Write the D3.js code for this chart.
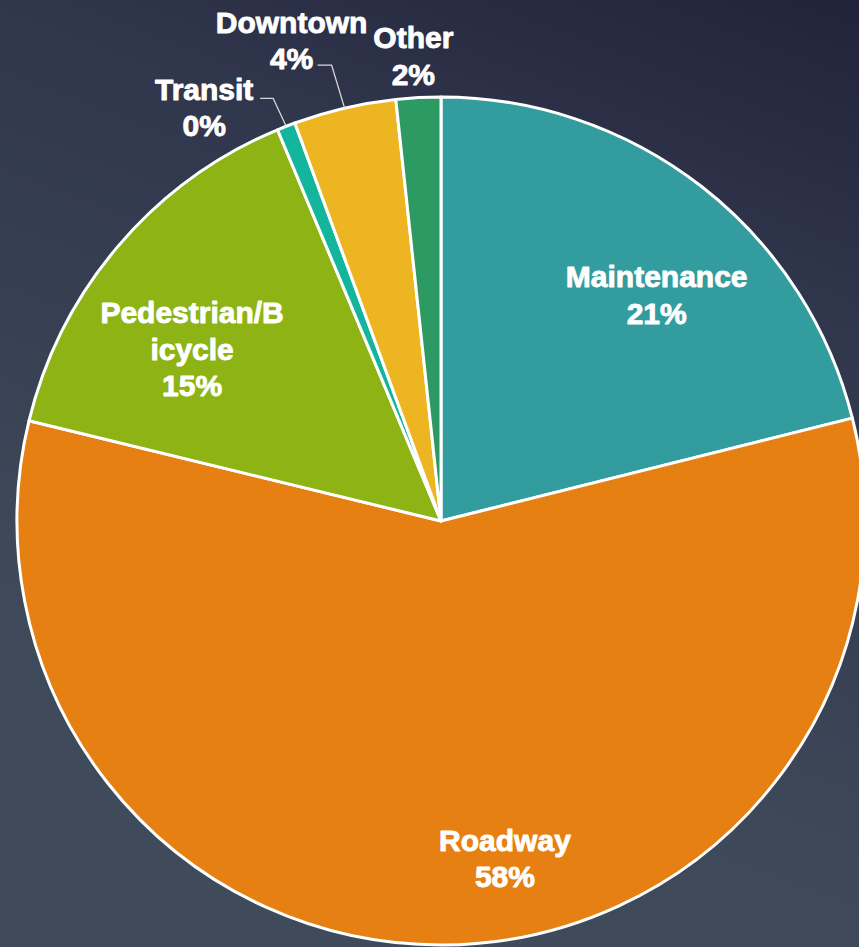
<!DOCTYPE html>
<html><head><meta charset="utf-8">
<script src="https://cdn.jsdelivr.net/npm/d3@7"></script>
<style>html,body{margin:0;padding:0;overflow:hidden;background:#2e3447}</style>
</head><body>
<svg id="chart" width="859" height="947"></svg>
<script>
const categories = ["Maintenance","Roadway","Pedestrian/Bicycle","Transit","Downtown","Other"];
const values = [21.1, 57.7, 14.9, 0.7, 3.9, 1.7];
const labelLines = [["Maintenance"],["Roadway"],["Pedestrian/B","icycle"],["Transit"],["Downtown"],["Other"]];
const pctLabels = ["21%","58%","15%","0%","4%","2%"];
const colors = ["#339c9e","#e68012","#8db414","#13b59c","#edb522","#2e9a63"];

// layout tweaks (not data)
const W = 859, H = 947, cx = 441, cy = 521, R = 424;
const fontSize = 30, lineH = 36.5;
// inside labels: offset from centroid at labelRadius; outside: offset from edge point
const labelCfg = [
  {inside:true, dx:28, dy:14},
  {inside:true, dx:63, dy:32},
  {inside:true, dx:-17, dy:26},
  {inside:false, dx:-82, dy:-19, leader:[[-13,-28],[-26,-28]]},
  {inside:false, dx:-53, dy:-68, leader:[[-13,-43],[-27,-43]]},
  {inside:false, dx:-5, dy:-42}
];

const svg = d3.select("#chart");
const defs = svg.append("defs");
const grad = defs.append("linearGradient").attr("id","bg")
  .attr("gradientUnits","userSpaceOnUse")
  .attr("x1",859).attr("y1",0).attr("x2",500).attr("y2",947);
grad.append("stop").attr("offset",0).attr("stop-color","#21233a");
grad.append("stop").attr("offset",0.3).attr("stop-color","#30364c");
grad.append("stop").attr("offset",0.85).attr("stop-color","#3e4a5a");
grad.append("stop").attr("offset",1).attr("stop-color","#3f4b5b");
svg.append("rect").attr("width",W).attr("height",H).attr("fill","url(#bg)");

const data = categories.map((c,i)=>({cat:c, value:values[i], lines:labelLines[i], pct:pctLabels[i], color:colors[i], cfg:labelCfg[i]}));
const pie = d3.pie().sort(null).value(d=>d.value);
const arcs = pie(data);
const arc = d3.arc().innerRadius(0).outerRadius(R);
const labelArc = d3.arc().innerRadius(305).outerRadius(305);
const edgeArc = d3.arc().innerRadius(R).outerRadius(R);

const g = svg.append("g").attr("transform",`translate(${cx},${cy})`);
g.selectAll("path.slice").data(arcs).join("path")
  .attr("class","slice")
  .attr("d",arc)
  .attr("fill",d=>d.data.color)
  .attr("stroke","#ffffff").attr("stroke-width",3).attr("stroke-linejoin","round");

const font = "'Liberation Sans', Arial, sans-serif";
arcs.forEach(d=>{
  const c = d.data.cfg;
  let base = c.inside ? labelArc.centroid(d) : edgeArc.centroid(d);
  const lx = base[0]+c.dx, ly = base[1]+c.dy;
  const lines = d.data.lines.concat([d.data.pct]);
  const n = lines.length;
  const t = g.append("text")
    .attr("text-anchor","middle")
    .attr("font-family",font).attr("font-weight","bold")
    .attr("font-size",fontSize).attr("fill","#ffffff")
    .attr("stroke","#ffffff").attr("stroke-width",0.9).attr("stroke-linejoin","round");
  lines.forEach((ln,i)=>{
    t.append("tspan").attr("x",lx)
      .attr("y", ly + (i-(n-1)/2)*lineH + fontSize*0.36)
      .text(ln);
  });
  if(c.leader){
    const pts = [base].concat(c.leader.map(p=>[base[0]+p[0], base[1]+p[1]]));
    g.append("path").attr("d",d3.line()(pts))
      .attr("fill","none").attr("stroke","#d9d9d9").attr("stroke-width",1.3);
  }
});
</script>
</body></html>
